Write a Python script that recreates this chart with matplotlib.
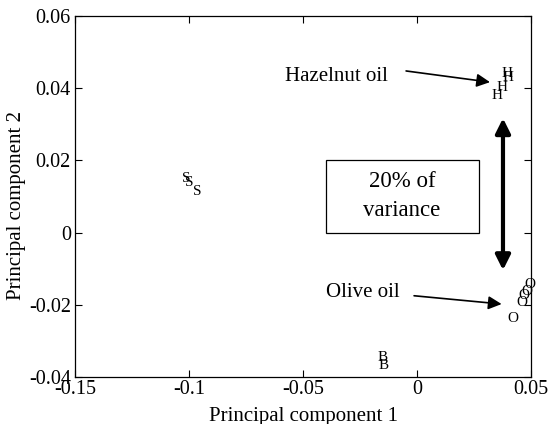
import matplotlib
matplotlib.use("Agg")
import matplotlib.pyplot as plt
from matplotlib.patches import Rectangle

plt.rcParams['font.family'] = ['Liberation Serif', 'DejaVu Serif']

# Scores (text markers)
h_x = [0.0395, 0.0399, 0.0373, 0.0351]
h_y = [0.0442, 0.0431, 0.0403, 0.0381]
o_x = [0.0496, 0.0482, 0.0469, 0.0461, 0.0421]
o_y = [-0.0145, -0.0164, -0.0175, -0.0195, -0.0239]
s_x = [-0.1013, -0.1000, -0.0965]
s_y = [0.0150, 0.0140, 0.0115]
b_x = [-0.0149, -0.0145]
b_y = [-0.0347, -0.0367]

x_ticks = [-0.15, -0.1, -0.05, 0, 0.05]
x_labels = ['-0.15', '-0.1', '-0.05', '0', '0.05']
y_ticks = [-0.04, -0.02, 0, 0.02, 0.04, 0.06]
y_labels = ['-0.04', '-0.02', '0', '0.02', '0.04', '0.06']

fig = plt.figure(figsize=(5.52, 4.24), dpi=100)
ax = fig.add_axes([0.136, 0.111, 0.826, 0.851])
ax.set_xlim(-0.15, 0.05)
ax.set_ylim(-0.04, 0.06)
ax.set_xticks(x_ticks)
ax.set_xticklabels(x_labels)
ax.set_yticks(y_ticks)
ax.set_yticklabels(y_labels)
ax.tick_params(direction='in', top=True, right=True, length=5, width=0.8,
               labelsize=14.5, pad=3)
ax.tick_params(axis='x', pad=2)
for sp in ax.spines.values():
    sp.set_linewidth(0.9)
ax.set_xlabel('Principal component 1', fontsize=15, labelpad=6)
ax.set_ylabel('Principal component 2', fontsize=15)
ax.yaxis.set_label_coords(-0.108, 0.476)

for xs, ys, ch in [(h_x, h_y, 'H'), (o_x, o_y, 'O'), (s_x, s_y, 'S'), (b_x, b_y, 'B')]:
    for x, y in zip(xs, ys):
        ax.text(x, y, ch, fontsize=11, ha='center', va='center')

# Annotations
ax.annotate('', xy=(0.0320, 0.0417), xytext=(-0.0048, 0.0448),
            arrowprops=dict(arrowstyle='-|>', color='black', lw=1.2,
                            mutation_scale=20, shrinkA=0, shrinkB=0))
ax.text(-0.0127, 0.0434, 'Hazelnut oil', fontsize=15, ha='right', va='center')

ax.annotate('', xy=(0.0371, -0.0198), xytext=(-0.0013, -0.0175),
            arrowprops=dict(arrowstyle='-|>', color='black', lw=1.2,
                            mutation_scale=20, shrinkA=0, shrinkB=0))
ax.text(-0.0075, -0.0166, 'Olive oil', fontsize=15, ha='right', va='center')

ax.annotate('', xy=(0.0377, 0.0317), xytext=(0.0377, -0.0104),
            arrowprops=dict(arrowstyle='<|-|>', color='black', lw=3,
                            mutation_scale=22, shrinkA=0, shrinkB=0))

ax.add_patch(Rectangle((-0.0401, -0.0001), 0.0671, 0.0203, fill=False,
                       edgecolor='black', lw=0.9))
ax.text(-0.0066, 0.0142, '20% of', fontsize=16.5, ha='center', va='center')
ax.text(-0.0066, 0.0061, 'variance', fontsize=16.5, ha='center', va='center')

fig.savefig('out.png', dpi=100)
